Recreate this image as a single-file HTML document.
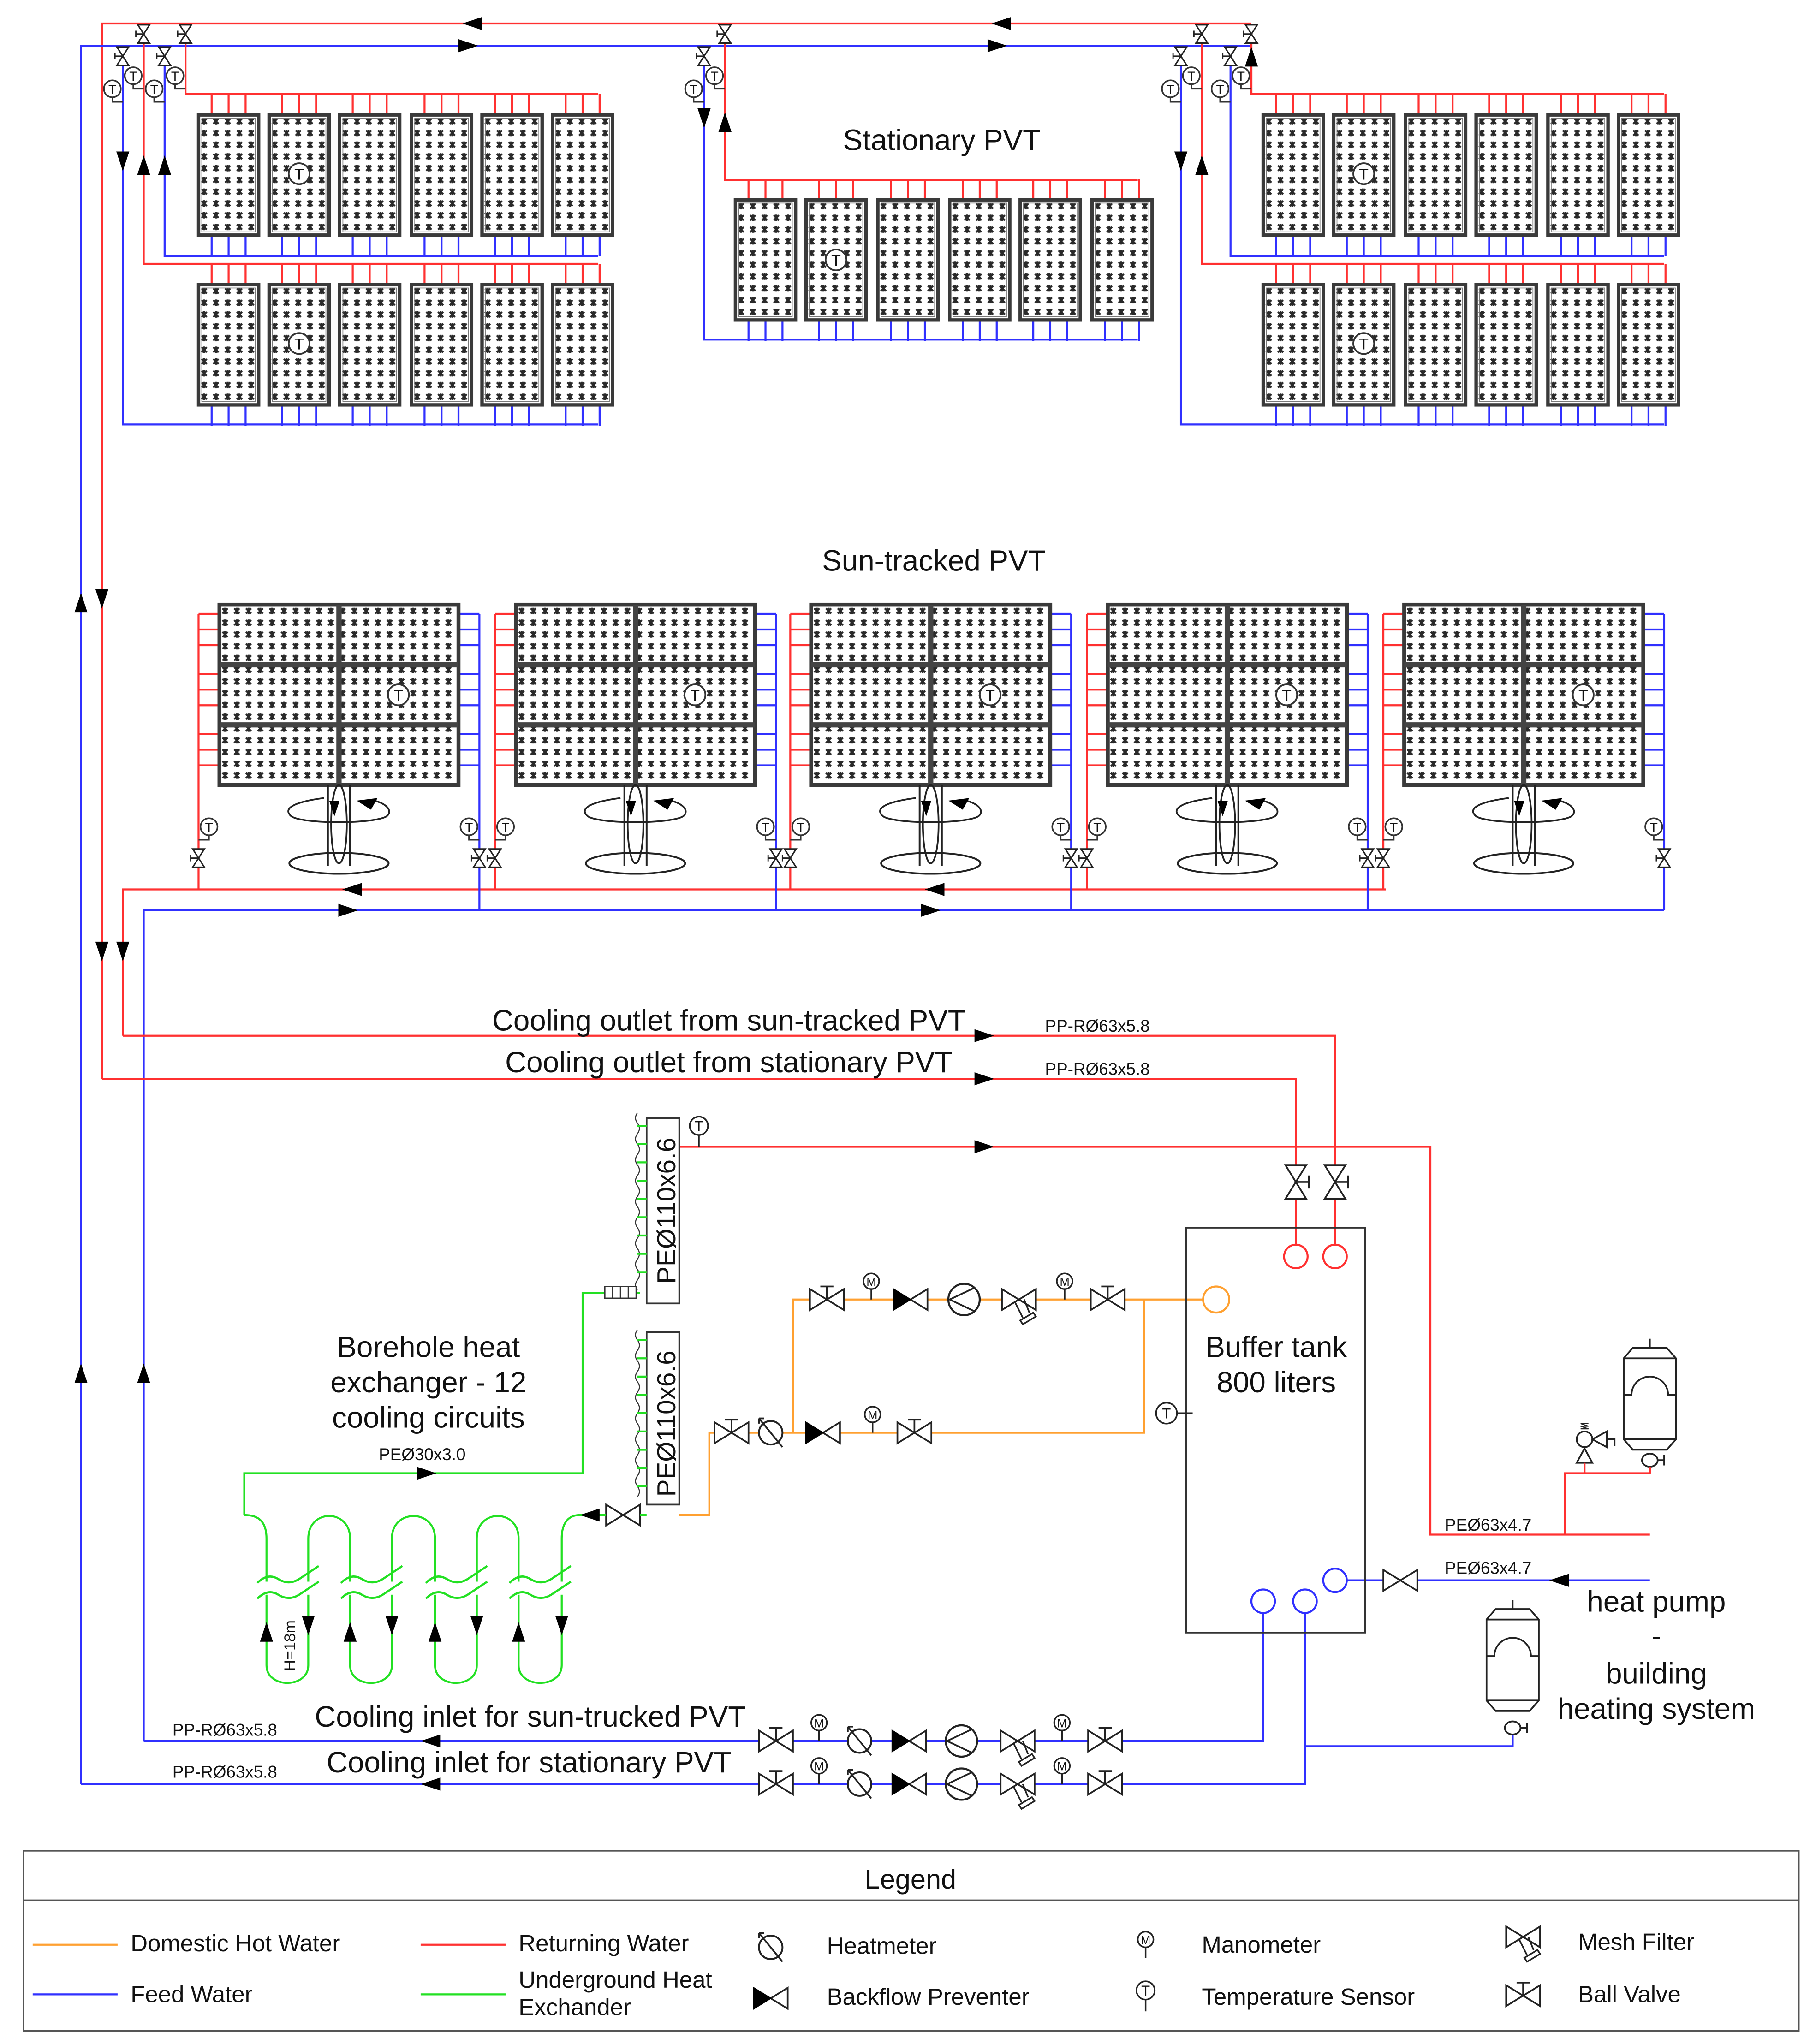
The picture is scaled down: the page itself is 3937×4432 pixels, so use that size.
<!DOCTYPE html>
<html><head><meta charset="utf-8">
<style>
html,body{margin:0;padding:0;background:#fff;}
svg{display:block;}
text{font-family:"Liberation Sans",Arial,sans-serif;fill:#111;}
</style></head>
<body>
<svg width="3937" height="4432" viewBox="0 0 1390.2 1565" xmlns="http://www.w3.org/2000/svg">
<defs>
<pattern id="dots" width="9" height="9" patternUnits="userSpaceOnUse">
<rect width="9" height="9" fill="#fff"/>
<path d="M2.3,2.8 L6.3,6.8 M6.3,2.8 L2.3,6.8 M4.3,2.3 V7.3" stroke="#2a2a2a" stroke-width="1.5"/>
</pattern>
<g id="pan">
<path d="M10,-16V0M23,-16V0M36,-16V0" stroke="#ff3030" stroke-width="1.5"/>
<path d="M10,92V108M23,92V108M36,92V108" stroke="#3030ff" stroke-width="1.5"/>
<rect x="0" y="0" width="46" height="92" fill="url(#dots)" stroke="#3a3a3a" stroke-width="2.6"/>
<rect x="2.5" y="2.5" width="41" height="87" fill="none" stroke="#777" stroke-width="0.6"/>
</g>
<g id="tc"><circle r="8" fill="#fff" stroke="#333" stroke-width="1.3"/><text x="0" y="4.5" font-size="12" text-anchor="middle" fill="#444">T</text></g>
<g id="vv"><path d="M-4.5,-7 H4.5 L-4.5,7 H4.5 Z" fill="#fff" stroke="#222" stroke-width="1.1"/><path d="M0,0 H-6 M-6,-2.5V2.5" stroke="#222" stroke-width="1"/></g>
<g id="tsm"><circle cx="8" cy="-10" r="6.5" fill="#fff" stroke="#333" stroke-width="1.2"/><text x="8" y="-6" font-size="10" text-anchor="middle" fill="#444">T</text><path d="M8,-3.5 V0 H0" stroke="#333" stroke-width="1.1" fill="none"/></g>
<g id="ar"><path d="M-9,-5 L6,0 L-9,5 Z" fill="#000"/></g>
<g id="bv"><path d="M-13,-8 L13,8 L13,-8 L-13,8 Z" fill="#fff" stroke="#222" stroke-width="1.3"/><path d="M0,0V-10M-5,-10H5" stroke="#222" stroke-width="1.3"/></g>
<g id="bvx"><path d="M-13,-8 L13,8 L13,-8 L-13,8 Z" fill="#fff" stroke="#222" stroke-width="1.3"/></g>
<g id="bf"><path d="M13,-8 L0,0 L13,8Z" fill="#fff" stroke="#222" stroke-width="1.3"/><path d="M-13,-8 L0,0 L-13,8Z" fill="#000" stroke="#000" stroke-width="1"/></g>
<g id="pu"><circle r="12" fill="#fff" stroke="#222" stroke-width="1.5"/><path d="M8,-9 L-11,0 L8,9" fill="none" stroke="#222" stroke-width="1.3"/></g>
<g id="hm"><circle r="9" fill="#fff" stroke="#222" stroke-width="1.4"/><path d="M-9,-11 L9,11 M-9,-11 v4 M-9,-11 h4" stroke="#222" stroke-width="1.3" fill="none"/></g>
<g id="fi"><path d="M-13,-8 L13,8 L13,-8 L-13,8 Z" fill="#fff" stroke="#222" stroke-width="1.3"/><path d="M-3,2 L3,14 M4,0 L8,10 M1,16 L11,10 L13,13 L3,19 Z" fill="#fff" stroke="#222" stroke-width="1.2"/></g>
<g id="mn"><circle cx="0" cy="-14" r="6" fill="#fff" stroke="#222" stroke-width="1.2"/><text x="0" y="-10.5" font-size="9" text-anchor="middle" fill="#333">M</text><path d="M0,-8V0" stroke="#222" stroke-width="1.2"/></g>
<g id="ts"><circle cx="0" cy="-16" r="7" fill="#fff" stroke="#222" stroke-width="1.2"/><text x="0" y="-12" font-size="11" text-anchor="middle" fill="#333">T</text><path d="M0,-9V0" stroke="#222" stroke-width="1.2"/></g>
<g id="sa">
<path d="M-16,7V218 M-16,7H0M-16,19H0M-16,31H0M-16,53H0M-16,65H0M-16,77H0M-16,99H0M-16,111H0M-16,123H0" stroke="#ff3030" stroke-width="1.5" fill="none"/>
<path d="M199,7V234 M183,7H199M183,19H199M183,31H199M183,53H199M183,65H199M183,77H199M183,99H199M183,111H199M183,123H199" stroke="#3030ff" stroke-width="1.5" fill="none"/>
<rect x="0" y="0" width="183" height="138" fill="url(#dots)" stroke="#3a3a3a" stroke-width="3"/>
<path d="M91.5,0V138 M0,46H183 M0,92H183" stroke="#444" stroke-width="4"/>
<use href="#tc" x="137" y="69"/>
<use href="#tsm" x="-16" y="180"/>
<use href="#vv" x="-16" y="194"/>
<g transform="translate(199,180) scale(-1,1)"><use href="#tsm"/></g>
<use href="#vv" x="199" y="194"/>
<path d="M83,138V200 M100,138V200" stroke="#222" stroke-width="1.4"/>
<ellipse cx="91.5" cy="198" rx="38" ry="8" fill="none" stroke="#222" stroke-width="1.4"/>
<path d="M80,148 C57,151 48,156 55,162 C64,168 118,168 128,162 C133,158 128,152 118,150" fill="none" stroke="#222" stroke-width="1.3"/>
<ellipse cx="91.5" cy="168" rx="6" ry="30" fill="none" stroke="#222" stroke-width="1.3"/>
<path d="M84,150 L88,162 L92,150Z M105,150 L121,148 L116,157Z" fill="#000"/>
</g>
</defs>

<rect width="1390.2" height="1565" fill="#fff"/>

<g fill="none" stroke-width="1.5">
<path d="M78,826 V18 H958" stroke="#ff3030"/>
<path d="M62,1366 V35 H958" stroke="#3030ff"/>
<path d="M110,18V202H458 M142,18V72H458" stroke="#ff3030"/>
<path d="M94,35V325H458 M126,35V196H458" stroke="#3030ff"/>
<path d="M555,18V138H871" stroke="#ff3030"/>
<path d="M539,35V260H871" stroke="#3030ff"/>
<path d="M920,18V202H1274 M958,18V72H1274" stroke="#ff3030"/>
<path d="M904,35V325H1274 M942,35V196H1274" stroke="#3030ff"/>
<path d="M94,793V681H1061" stroke="#ff3030"/>
<path d="M110,1333V697H1274" stroke="#3030ff"/>
<path d="M94,793H1022V953 M78,826H992V953" stroke="#ff3030"/>
<path d="M520,878H1095V1175H1263 M1198,1175V1128H1263V1120" stroke="#ff3030"/>
<path d="M110,1333H967V1235 M62,1366H999V1235 M999,1337H1158V1328" stroke="#3030ff"/>
<path d="M1031,1210H1263" stroke="#3030ff"/>
<path d="M520,1160H543V1097H876V995 M607,1097V995H921" stroke="#ffa030"/>
<path d="M490,990H446V1128H187V1160" stroke="#22e022"/>
</g>

<g>
<use href="#pan" x="152" y="88"/><use href="#pan" x="206" y="88"/><use href="#pan" x="260" y="88"/><use href="#pan" x="315" y="88"/><use href="#pan" x="369" y="88"/><use href="#pan" x="423" y="88"/>
<use href="#pan" x="152" y="218"/><use href="#pan" x="206" y="218"/><use href="#pan" x="260" y="218"/><use href="#pan" x="315" y="218"/><use href="#pan" x="369" y="218"/><use href="#pan" x="423" y="218"/>
<use href="#pan" x="563" y="153"/><use href="#pan" x="617" y="153"/><use href="#pan" x="672" y="153"/><use href="#pan" x="727" y="153"/><use href="#pan" x="781" y="153"/><use href="#pan" x="836" y="153"/>
<use href="#pan" x="967" y="88"/><use href="#pan" x="1021" y="88"/><use href="#pan" x="1076" y="88"/><use href="#pan" x="1130" y="88"/><use href="#pan" x="1185" y="88"/><use href="#pan" x="1239" y="88"/>
<use href="#pan" x="967" y="218"/><use href="#pan" x="1021" y="218"/><use href="#pan" x="1076" y="218"/><use href="#pan" x="1130" y="218"/><use href="#pan" x="1185" y="218"/><use href="#pan" x="1239" y="218"/>
<use href="#tc" x="229" y="133"/><use href="#tc" x="229" y="263"/><use href="#tc" x="640" y="199"/><use href="#tc" x="1044" y="133"/><use href="#tc" x="1044" y="263"/>
</g>

<g>
<use href="#vv" x="110" y="26"/><use href="#vv" x="142" y="26"/><use href="#vv" x="94" y="43"/><use href="#vv" x="126" y="43"/>
<use href="#vv" x="555" y="26"/><use href="#vv" x="539" y="43"/>
<use href="#vv" x="920" y="26"/><use href="#vv" x="958" y="26"/><use href="#vv" x="904" y="43"/><use href="#vv" x="942" y="43"/>
<g transform="translate(94,78) scale(-1,1)"><use href="#tsm"/></g>
<g transform="translate(110,68) scale(-1,1)"><use href="#tsm"/></g>
<g transform="translate(126,78) scale(-1,1)"><use href="#tsm"/></g>
<g transform="translate(142,68) scale(-1,1)"><use href="#tsm"/></g>
<g transform="translate(539,78) scale(-1,1)"><use href="#tsm"/></g>
<g transform="translate(555,68) scale(-1,1)"><use href="#tsm"/></g>
<g transform="translate(904,78) scale(-1,1)"><use href="#tsm"/></g>
<g transform="translate(920,68) scale(-1,1)"><use href="#tsm"/></g>
<g transform="translate(942,78) scale(-1,1)"><use href="#tsm"/></g>
<g transform="translate(958,68) scale(-1,1)"><use href="#tsm"/></g>
</g>

<use href="#sa" x="168" y="463"/>
<use href="#sa" x="395" y="463"/>
<use href="#sa" x="621" y="463"/>
<use href="#sa" x="848" y="463"/>
<use href="#sa" x="1075" y="463"/>

<g>
<use href="#ar" transform="translate(360,18) rotate(180)"/>
<use href="#ar" transform="translate(765,18) rotate(180)"/>
<use href="#ar" transform="translate(360,35)"/>
<use href="#ar" transform="translate(765,35)"/>
<use href="#ar" transform="translate(958,42) rotate(-90)"/>
<use href="#ar" transform="translate(94,125) rotate(90)"/>
<use href="#ar" transform="translate(110,125) rotate(-90)"/>
<use href="#ar" transform="translate(126,125) rotate(-90)"/>
<use href="#ar" transform="translate(539,92) rotate(90)"/>
<use href="#ar" transform="translate(555,92) rotate(-90)"/>
<use href="#ar" transform="translate(904,125) rotate(90)"/>
<use href="#ar" transform="translate(920,125) rotate(-90)"/>
<use href="#ar" transform="translate(62,460) rotate(-90)"/>
<use href="#ar" transform="translate(78,460) rotate(90)"/>
<use href="#ar" transform="translate(78,730) rotate(90)"/>
<use href="#ar" transform="translate(94,730) rotate(90)"/>
<use href="#ar" transform="translate(62,1050) rotate(-90)"/>
<use href="#ar" transform="translate(110,1050) rotate(-90)"/>
<use href="#ar" transform="translate(268,681) rotate(180)"/>
<use href="#ar" transform="translate(714,681) rotate(180)"/>
<use href="#ar" transform="translate(268,697)"/>
<use href="#ar" transform="translate(714,697)"/>
<use href="#ar" transform="translate(755,793)"/>
<use href="#ar" transform="translate(755,826)"/>
<use href="#ar" transform="translate(755,878)"/>
<use href="#ar" transform="translate(328,1128)"/>
<use href="#ar" transform="translate(328,1333) rotate(180)"/>
<use href="#ar" transform="translate(328,1366) rotate(180)"/>
<use href="#ar" transform="translate(1192,1210) rotate(180)"/>
</g>

<g>
<g transform="translate(992,905) rotate(90)"><use href="#bv"/></g>
<g transform="translate(1022,905) rotate(90)"><use href="#bv"/></g>
<circle cx="992" cy="962" r="9" fill="#fff" stroke="#ff3030" stroke-width="1.5"/>
<circle cx="1022" cy="962" r="9" fill="#fff" stroke="#ff3030" stroke-width="1.5"/>
<rect x="908" y="940" width="137" height="310" fill="none" stroke="#333" stroke-width="1.3"/>
<circle cx="931" cy="995" r="10" fill="#fff" stroke="#ffa030" stroke-width="1.5"/>
<circle cx="967" cy="1226" r="9" fill="#fff" stroke="#3030ff" stroke-width="1.5"/>
<circle cx="999" cy="1226" r="9" fill="#fff" stroke="#3030ff" stroke-width="1.5"/>
<circle cx="1022" cy="1210" r="9" fill="#fff" stroke="#3030ff" stroke-width="1.5"/>
<circle cx="893" cy="1082" r="8" fill="#fff" stroke="#222" stroke-width="1.2"/><text x="893" y="1086" font-size="11" text-anchor="middle">T</text>
<path d="M901,1082H913" stroke="#222" stroke-width="1.2"/>
<use href="#bvx" x="1072" y="1210"/>
<use href="#ts" x="535" y="878"/>
</g>

<g>
<use href="#bv" x="633" y="995"/><use href="#mn" x="667" y="995"/><use href="#bf" x="697" y="995"/><use href="#pu" x="738" y="995"/><use href="#fi" x="780" y="995"/><use href="#mn" x="815" y="995"/><use href="#bv" x="848" y="995"/>
<use href="#bv" x="560" y="1097"/><use href="#hm" x="590" y="1097"/><use href="#bf" x="630" y="1097"/><use href="#mn" x="668" y="1097"/><use href="#bv" x="700" y="1097"/>
</g>
<g>
<use href="#bv" x="594" y="1333"/><use href="#mn" x="627" y="1333"/><use href="#hm" x="658" y="1333"/><use href="#bf" x="696" y="1333"/><use href="#pu" x="736" y="1333"/><use href="#fi" x="779" y="1333"/><use href="#mn" x="813" y="1333"/><use href="#bv" x="846" y="1333"/>
<use href="#bv" x="594" y="1366"/><use href="#mn" x="627" y="1366"/><use href="#hm" x="658" y="1366"/><use href="#bf" x="696" y="1366"/><use href="#pu" x="736" y="1366"/><use href="#fi" x="779" y="1366"/><use href="#mn" x="813" y="1366"/><use href="#bv" x="846" y="1366"/>
</g>

<g>
<rect x="495" y="856" width="25" height="142" fill="#fff" stroke="#333" stroke-width="1.3"/>
<text transform="translate(517,927) rotate(-90)" font-size="20" text-anchor="middle">PEØ110x6.6</text>
<rect x="495" y="1020" width="25" height="132" fill="#fff" stroke="#333" stroke-width="1.3"/>
<text transform="translate(517,1090) rotate(-90)" font-size="20" text-anchor="middle">PEØ110x6.6</text>
<path d="M488,852 q-3,4 0,8 q3,4 0,8 q-3,4 0,8 q3,4 0,8 q-3,4 0,8 q3,4 0,8 q-3,4 0,8 q3,4 0,8 q-3,4 0,8 q3,4 0,8 q-3,4 0,8 q3,4 0,8 q-3,4 0,8 q3,4 0,8 q-3,4 0,8 q3,4 0,8 q-3,4 0,8 M488,1018 q-3,4 0,8 q3,4 0,8 q-3,4 0,8 q3,4 0,8 q-3,4 0,8 q3,4 0,8 q-3,4 0,8 q3,4 0,8 q-3,4 0,8 q3,4 0,8 q-3,4 0,8 q3,4 0,8 q-3,4 0,8 q3,4 0,8 q-3,4 0,8 q3,4 0,8" fill="none" stroke="#333" stroke-width="0.8"/>
<path d="M488,862h7M488,876h7M488,890h7M488,904h7M488,918h7M488,932h7M488,946h7M488,960h7M488,974h7M488,1026h7M488,1040h7M488,1054h7M488,1068h7M488,1082h7M488,1096h7M488,1110h7M488,1124h7M488,1138h7" stroke="#22e022" stroke-width="1.5"/>
<rect x="463" y="985" width="24" height="9" fill="#fff" stroke="#333" stroke-width="1"/>
<path d="M469,985v9M475,985v9M481,985v9" stroke="#333" stroke-width="1"/>
<use href="#bvx" x="477" y="1160"/>
<path d="M490,1160H495 M442,1160H464" stroke="#22e022" stroke-width="1.5"/>
<use href="#ar" transform="translate(450,1160) rotate(180)"/>
</g>

<g fill="none" stroke="#22e022" stroke-width="1.5">
<path d="M187,1160 C198,1160 204,1165 204,1178 V1275 C204,1293 236,1293 236,1275 V1178 C236,1155 268,1155 268,1178 V1275 C268,1293 300,1293 300,1275 V1178 C300,1155 333,1155 333,1178 V1275 C333,1293 365,1293 365,1275 V1178 C365,1155 397,1155 397,1178 V1275 C397,1293 430,1293 430,1275 V1178 C430,1165 436,1160 444,1160"/>
</g>
<rect x="196" y="1211" width="250" height="10" fill="#fff"/>
<g fill="none" stroke="#22e022" stroke-width="1.6">
<path d="M197,1212 q8,-8 16,-3 q8,5 16,0 l15,-10 M197,1224 q8,-8 16,-3 q8,5 16,0 l15,-10"/>
<path d="M261,1212 q8,-8 16,-3 q8,5 16,0 l15,-10 M261,1224 q8,-8 16,-3 q8,5 16,0 l15,-10"/>
<path d="M326,1212 q8,-8 16,-3 q8,5 16,0 l15,-10 M326,1224 q8,-8 16,-3 q8,5 16,0 l15,-10"/>
<path d="M390,1212 q8,-8 16,-3 q8,5 16,0 l15,-10 M390,1224 q8,-8 16,-3 q8,5 16,0 l15,-10"/>
</g>
<g>
<use href="#ar" transform="translate(204,1248) rotate(-90)"/><use href="#ar" transform="translate(236,1246) rotate(90)"/>
<use href="#ar" transform="translate(268,1248) rotate(-90)"/><use href="#ar" transform="translate(300,1246) rotate(90)"/>
<use href="#ar" transform="translate(333,1248) rotate(-90)"/><use href="#ar" transform="translate(365,1246) rotate(90)"/>
<use href="#ar" transform="translate(397,1248) rotate(-90)"/><use href="#ar" transform="translate(430,1246) rotate(90)"/>
</g>
<text transform="translate(226,1260) rotate(-90)" font-size="12" text-anchor="middle" fill="#333">H=18m</text>

<g fill="#fff" stroke="#222" stroke-width="1.3">
<path d="M1250,1032 H1276 L1283,1040 V1102 L1276,1110 H1250 L1243,1102 V1040 Z"/>
<path d="M1243,1040H1283 M1243,1102H1283 M1263,1032V1025" fill="none"/>
<path d="M1243,1068 H1249 A14,14 0 0 1 1277,1068 H1283" fill="none"/>
<ellipse cx="1263" cy="1118" rx="6" ry="5"/><path d="M1269,1118H1274M1274,1114V1122" fill="none"/>
<path d="M1145,1232 H1171 L1178,1240 V1302 L1171,1310 H1145 L1138,1302 V1240 Z"/>
<path d="M1138,1240H1178 M1138,1302H1178 M1158,1232V1225" fill="none"/>
<path d="M1138,1268 H1144 A14,14 0 0 1 1172,1268 H1178" fill="none"/>
<ellipse cx="1158" cy="1323" rx="6" ry="5"/><path d="M1164,1323H1169M1169,1319V1327" fill="none"/>
<circle cx="1213" cy="1102" r="6"/>
<path d="M1207,1120 L1213,1109 L1219,1120 Z"/>
<path d="M1219,1102 L1230,1096 V1108 Z M1230,1102H1236V1107" fill="none"/>
<path d="M1210,1094 h6 l-6,-2 h6 l-6,-2 h6" fill="none" stroke-width="0.8"/>
</g>
<path d="M1213,1120V1128 M1263,1123V1128" stroke="#ff3030" stroke-width="1.5"/>

<g font-size="22.5" text-anchor="middle">
<text x="721" y="115">Stationary PVT</text>
<text x="715" y="437">Sun-tracked PVT</text>
<text x="558" y="789">Cooling outlet from sun-tracked PVT</text>
<text x="558" y="821">Cooling outlet from stationary PVT</text>
<text x="328" y="1039">Borehole heat</text>
<text x="328" y="1066">exchanger - 12</text>
<text x="328" y="1093">cooling circuits</text>
<text x="977" y="1039">Buffer tank</text>
<text x="977" y="1066">800 liters</text>
<text x="406" y="1322">Cooling inlet for sun-trucked PVT</text>
<text x="405" y="1357">Cooling inlet for stationary PVT</text>
<text x="1268" y="1234">heat pump</text>
<text x="1268" y="1260">-</text>
<text x="1268" y="1289">building</text>
<text x="1268" y="1316">heating system</text>
</g>
<g font-size="13" fill="#222">
<text x="800" y="790">PP-RØ63x5.8</text>
<text x="800" y="823">PP-RØ63x5.8</text>
<text x="290" y="1118">PEØ30x3.0</text>
<text x="1106" y="1172">PEØ63x4.7</text>
<text x="1106" y="1205">PEØ63x4.7</text>
<text x="132" y="1329">PP-RØ63x5.8</text>
<text x="132" y="1361">PP-RØ63x5.8</text>
</g>

<g>
<rect x="18" y="1417" width="1359" height="138" fill="none" stroke="#555" stroke-width="1.3"/>
<path d="M18,1455H1377" stroke="#555" stroke-width="1.3"/>
<text x="697" y="1446" font-size="21" text-anchor="middle">Legend</text>
<path d="M25,1489H90" stroke="#ffa030" stroke-width="1.5"/>
<path d="M25,1527H90" stroke="#3030ff" stroke-width="1.5"/>
<path d="M322,1489H387" stroke="#ff3030" stroke-width="1.5"/>
<path d="M322,1527H387" stroke="#22e022" stroke-width="1.5"/>
<g font-size="18">
<text x="100" y="1494">Domestic Hot Water</text>
<text x="100" y="1533">Feed Water</text>
<text x="397" y="1494">Returning Water</text>
<text x="397" y="1522">Underground Heat</text>
<text x="397" y="1543">Exchander</text>
<text x="633" y="1496">Heatmeter</text>
<text x="633" y="1535">Backflow Preventer</text>
<text x="920" y="1495">Manometer</text>
<text x="920" y="1535">Temperature Sensor</text>
<text x="1208" y="1493">Mesh Filter</text>
<text x="1208" y="1533">Ball Valve</text>
</g>
<use href="#hm" x="590" y="1491"/>
<use href="#bf" x="590" y="1530"/>
<use href="#mn" x="877" y="1499"/>
<use href="#ts" x="877" y="1540"/>
<use href="#fi" x="1166" y="1483"/>
<use href="#bv" x="1166" y="1528"/>
</g>
</svg>
</body></html>
